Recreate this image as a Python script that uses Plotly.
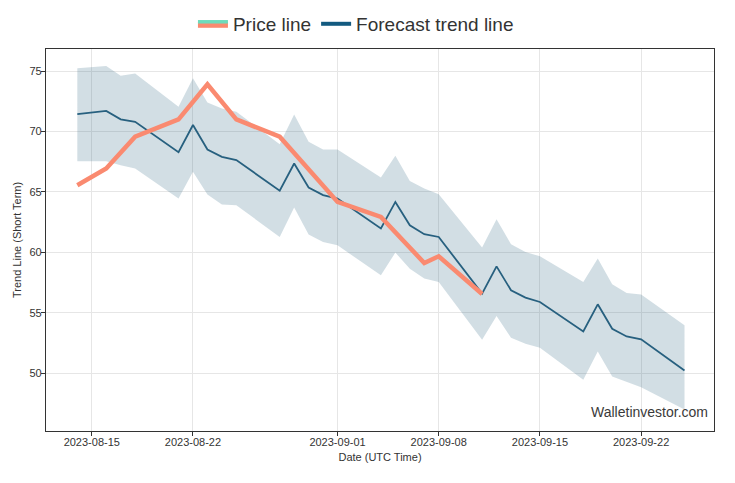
import plotly.graph_objects as go

# ---- data ----
forecast_dates = ["2023-08-14", "2023-08-16", "2023-08-17", "2023-08-18", "2023-08-21",
                  "2023-08-22", "2023-08-23", "2023-08-24", "2023-08-25", "2023-08-28",
                  "2023-08-29", "2023-08-30", "2023-08-31", "2023-09-01", "2023-09-04",
                  "2023-09-05", "2023-09-06", "2023-09-07", "2023-09-08", "2023-09-11",
                  "2023-09-12", "2023-09-13", "2023-09-14", "2023-09-15", "2023-09-18",
                  "2023-09-19", "2023-09-20", "2023-09-21", "2023-09-22", "2023-09-25"]
forecast_values = [71.44, 71.70, 71.00, 70.80, 68.29, 70.53, 68.50, 67.90, 67.63, 65.10,
                   67.35, 65.36, 64.73, 64.45, 61.97, 64.17, 62.24, 61.50, 61.27, 56.58,
                   58.84, 56.86, 56.25, 55.89, 53.46, 55.70, 53.68, 53.04, 52.80, 50.23]
upper_values = [75.22, 75.41, 74.60, 74.80, 72.04, 74.40, 72.40, 71.90, 71.63, 68.95,
                71.41, 69.14, 68.50, 68.50, 66.20, 67.98, 65.90, 65.28, 64.81, 60.39,
                62.74, 60.67, 60.03, 59.67, 57.54, 59.48, 57.35, 56.63, 56.52, 53.96]
lower_values = [67.54, 67.54, 67.20, 66.94, 64.45, 66.66, 64.78, 63.95, 63.90, 61.27,
                63.70, 61.47, 60.86, 60.58, 58.10, 59.98, 58.65, 57.83, 57.55, 52.77,
                54.73, 52.94, 52.44, 52.11, 49.46, 51.80, 49.73, 49.26, 48.84, 47.00]

price_dates = ["2023-08-14", "2023-08-16", "2023-08-18", "2023-08-21", "2023-08-23",
               "2023-08-25", "2023-08-28", "2023-09-01", "2023-09-04", "2023-09-07",
               "2023-09-08", "2023-09-11"]
price_values = [65.55, 66.94, 69.56, 71.00, 73.90, 71.00, 69.56, 64.17, 62.93, 59.12,
                59.67, 56.55]

tick_dates = ["2023-08-15", "2023-08-22", "2023-09-01", "2023-09-08", "2023-09-15", "2023-09-22"]
y_ticks = [50, 55, 60, 65, 70, 75]

BAND = "rgba(31,90,120,0.2)"
FORECAST = "#27607f"
PRICE = "#fa8a70"
GREEN = "#6ddcbc"
FONT = "Liberation Sans, Arial, sans-serif"

fig = go.Figure()

# legend-only entries (listed first so they lead the legend)
fig.add_trace(go.Scatter(x=[None], y=[None], mode="lines", name="Price line",
                         line=dict(width=3.5, color=GREEN), fill="toself", fillcolor=PRICE))
fig.add_trace(go.Scatter(x=[None], y=[None], mode="lines", name="Forecast trend line",
                         line=dict(width=4, color="#135a80")))

# confidence band
fig.add_trace(go.Scatter(x=forecast_dates, y=upper_values, mode="lines",
                         line=dict(width=0, color=BAND), showlegend=False, hoverinfo="skip"))
fig.add_trace(go.Scatter(x=forecast_dates, y=lower_values, mode="lines",
                         line=dict(width=0, color=BAND), fill="tonexty", fillcolor=BAND,
                         showlegend=False, hoverinfo="skip"))
# forecast line
fig.add_trace(go.Scatter(x=forecast_dates, y=forecast_values, mode="lines",
                         line=dict(width=1.8, color=FORECAST), showlegend=False))
# price line
fig.add_trace(go.Scatter(x=price_dates, y=price_values, mode="lines",
                         line=dict(width=4.5, color=PRICE), showlegend=False))

fig.add_annotation(text="Walletinvestor.com", xref="paper", yref="paper",
                   x=0.994, y=0.05, xanchor="right", yanchor="middle", showarrow=False,
                   font=dict(family=FONT, size=14, color="#3a3a3a"))

# y-axis title
fig.add_annotation(text="Trend Line (Short Term)", xref="paper", yref="paper",
                   x=-0.0434, y=0.5, xanchor="center", yanchor="middle", textangle=-90,
                   showarrow=False, font=dict(family=FONT, size=11, color="#333"))

axis_common = dict(showline=True, linecolor="#333", linewidth=1.2, mirror=True,
                   ticks="outside", ticklen=4, tickcolor="#333", automargin=False,
                   ticklabelstandoff=-3,
                   showgrid=True, gridcolor="#e6e6e6", gridwidth=1, zeroline=False,
                   tickfont=dict(family=FONT, size=11, color="#333"))

fig.update_layout(
    width=735, height=483,
    margin=dict(l=38, r=29, t=41, b=60),
    paper_bgcolor="white", plot_bgcolor="white",
    font=dict(family=FONT, color="#333"),
    legend=dict(orientation="h", x=0.464, xanchor="center",
                yref="container", y=0.967, yanchor="middle",
                traceorder="normal",
                font=dict(family=FONT, size=19, color="#333"), bgcolor="rgba(0,0,0,0)"),
    xaxis=dict(type="date", range=["2023-08-11 20:00", "2023-09-27 01:00"],
               tickvals=tick_dates, ticktext=tick_dates,
               title=dict(text="Date (UTC Time)", font=dict(family=FONT, size=11, color="#333"),
                          standoff=6),
               **axis_common),
    yaxis=dict(range=[45.22, 76.82], tickvals=y_ticks,
               **axis_common),
)

fig.write_html("out.html")
